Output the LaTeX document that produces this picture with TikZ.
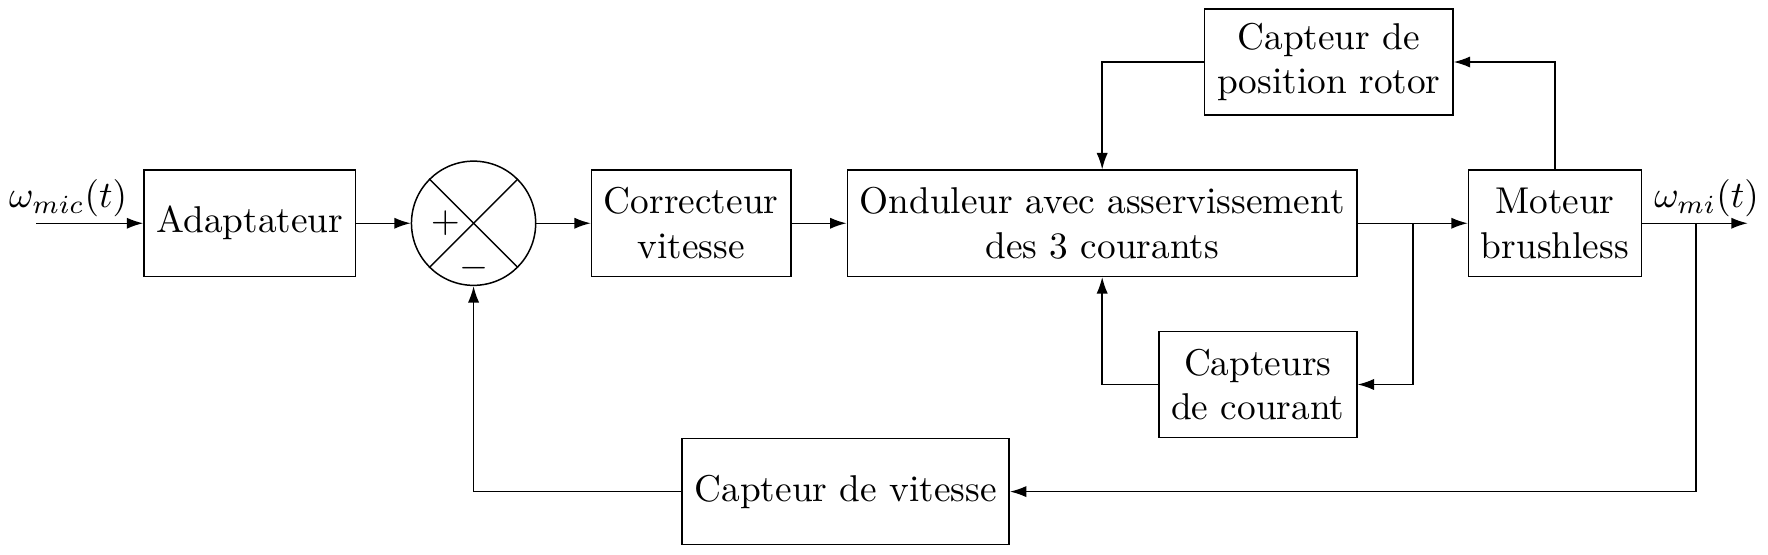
\documentclass[tikz,border=0pt]{standalone}
\usetikzlibrary{arrows.meta}
\begin{document}
\begin{tikzpicture}[x=0.010616cm,y=-0.010616cm,
  blk/.style={draw, minimum height=1cm, align=center},
  conn/.style={-{Latex[length=4.4pt,width=3pt]}}]
\useasboundingbox (0,0) rectangle (1568,492.2);
% blocks
\node[blk] (adapt) at (221.5,198) {Adaptateur};
\node[draw, circle, minimum size=1.17cm, inner sep=0pt] (sum) at (420,198) {};
\draw (sum.north west) -- (sum.south east);
\draw (sum.north east) -- (sum.south west);
\node (plus) at (395,198) {$+$};
\node (minus) at (420,238) {$-$};
\node[blk] (corr) at (613,198) {Correcteur\\vitesse};
\node[blk] (ond) at (977.5,198) {Onduleur avec asservissement\\des 3 courants};
\node[blk] (mot) at (1379,198) {Moteur\\brushless};
\node[blk] (cpos) at (1178.5,55) {Capteur de\\position rotor};
\node[blk] (ccour) at (1115.5,341) {Capteurs\\de courant};
\node[blk] (cvit) at (750,436) {Capteur de vitesse};
% labels
\node (lin) at (60.5,176) {$\omega_{mic}(t)$};
\node (lout) at (1513.5,176) {$\omega_{mi}(t)$};
% coordinates
\coordinate (in) at (32,198);
\coordinate (out) at (1550,198);
\coordinate (b1) at (1253,198);
\coordinate (b2) at (1504,198);
% connectors
\draw[conn] (in) -- (adapt);
\draw[conn] (adapt) -- (sum);
\draw[conn] (sum) -- (corr);
\draw[conn] (corr) -- (ond);
\draw[conn] (ond) -- (mot);
\draw[conn] (mot) -- (out);
\draw[conn] (b1) |- (ccour.east);
\draw[conn] (ccour.west) -| (ond.south);
\draw[conn] (cpos.west) -| (ond.north);
\draw[conn] (mot.north) |- (cpos.east);
\draw[conn] (b2) |- (cvit.east);
\draw[conn] (cvit.west) -| (sum.south);
\end{tikzpicture}
\end{document}
